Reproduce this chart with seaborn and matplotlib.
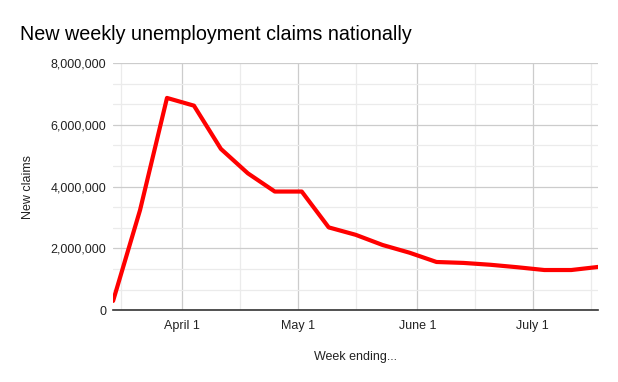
import matplotlib
matplotlib.use("Agg")
import matplotlib.pyplot as plt
import matplotlib.dates as mdates
import matplotlib.ticker as mticker
import seaborn as sns
import pandas as pd
import numpy as np

weeks = ["2020-03-14", "2020-03-21", "2020-03-28", "2020-04-04", "2020-04-11",
         "2020-04-18", "2020-04-25", "2020-05-02", "2020-05-09", "2020-05-16",
         "2020-05-23", "2020-05-30", "2020-06-06", "2020-06-13", "2020-06-20",
         "2020-06-27", "2020-07-04", "2020-07-11", "2020-07-18"]
claims = [300000, 3240000, 6870000, 6620000, 5220000, 4430000, 3840000, 3840000,
          2680000, 2440000, 2110000, 1860000, 1560000, 1530000, 1470000,
          1390000, 1300000, 1300000, 1400000]
month_ticks = ["2020-04-01", "2020-05-01", "2020-06-01", "2020-07-01"]
month_labels = ["April 1", "May 1", "June 1", "July 1"]

df = pd.DataFrame({"week": pd.to_datetime(weeks), "claims": claims})

sns.set_theme(style="white")
plt.rcParams["font.family"] = ["Liberation Sans", "DejaVu Sans"]

fig = plt.figure(figsize=(6.18, 3.82), dpi=100)
ax = fig.add_axes([0.183, 0.188, 0.785, 0.647])

sns.lineplot(data=df, x="week", y="claims", ax=ax, color="#ff0000", linewidth=3.0, zorder=3)

ax.set_xlim(df["week"].min(), df["week"].max())
ax.set_ylim(0, 8000000)

ax.set_xticks(pd.to_datetime(month_ticks))
ax.set_xticklabels(month_labels)
ax.xaxis.set_minor_locator(mdates.DayLocator(bymonthday=16))
ax.set_yticks([0, 2000000, 4000000, 6000000, 8000000])
ax.yaxis.set_major_formatter(mticker.FuncFormatter(lambda v, p: f"{int(v):,}"))
ax.yaxis.set_minor_locator(mticker.MultipleLocator(2000000 / 3))

ax.grid(which="major", color="#cccccc", linewidth=0.9)
ax.grid(which="minor", color="#ebebeb", linewidth=0.9)
ax.set_axisbelow(True)

for s in ["top", "right", "left"]:
    ax.spines[s].set_visible(False)
ax.spines["bottom"].set_color("#333333")
ax.spines["bottom"].set_linewidth(1.2)

ax.tick_params(axis="both", which="both", length=0, labelsize=9, colors="#222222", pad=7)
ax.tick_params(axis="y", pad=5)

ax.set_xlabel("Week ending...", fontsize=9, color="#222222", labelpad=14)
ax.set_ylabel("New claims", fontsize=9, color="#222222", labelpad=12)

fig.text(0.032, 0.895, "New weekly unemployment claims nationally", fontsize=14.2, color="#000000", ha="left", va="baseline")

fig.savefig("out.png", dpi=100)
